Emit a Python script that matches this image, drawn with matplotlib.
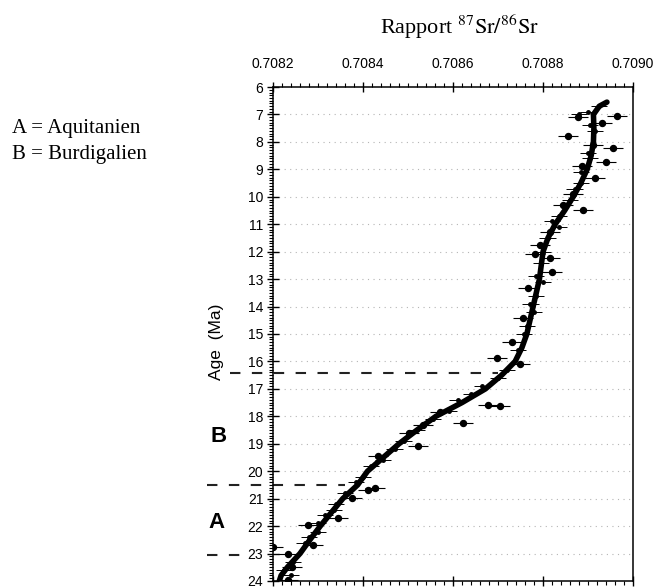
import numpy as np
import matplotlib
matplotlib.use('Agg')
import matplotlib.pyplot as plt
from matplotlib.ticker import MultipleLocator

plt.rcParams['font.family'] = ['Liberation Sans', 'DejaVu Sans']
plt.rcParams['mathtext.fontset'] = 'stix'

# smoothed reference curve (age in Ma, 87Sr/86Sr)
curve_age = [6.55, 6.7, 7.0, 7.5, 8.0, 8.5, 9.0, 9.5, 10.0, 10.5, 11.0, 11.5, 12.0, 13.0,
             14.0, 15.0, 15.5, 16.0, 16.5, 17.0, 17.5, 18.0, 18.5, 19.0, 19.5, 20.0,
             20.5, 21.0, 21.5, 22.0, 22.5, 23.0, 23.5, 23.8, 24.0, 24.3]
curve_sr = [0.708942, 0.708925, 0.708912, 0.708913, 0.708912, 0.708907, 0.708898, 0.708884,
            0.708867, 0.708848, 0.708827, 0.708811, 0.708800, 0.708792, 0.708778, 0.708764,
            0.708753, 0.708738, 0.708708, 0.708672, 0.708620, 0.708562, 0.708520, 0.708480,
            0.708445, 0.708410, 0.708388, 0.708355, 0.708330, 0.708305, 0.708282, 0.708260,
            0.708232, 0.708218, 0.708214, 0.708214]

# individual measurements (large dots)
big_age = [7.06, 7.8, 8.22, 8.73, 8.88, 9.32, 10.48, 7.3, 7.1, 8.1, 9.9, 10.3, 11.3, 11.76,
           12.1, 12.23, 12.74, 13.33, 14.42, 15.3, 15.88, 17.6, 17.63, 16.1, 18.25, 17.85,
           18.3, 18.6, 19.1, 19.45, 20.7, 20.6, 20.98, 21.7, 21.96, 22.7, 23.0, 22.75, 23.5, 23.97]
big_sr = [0.708964, 0.708856, 0.708956, 0.708940, 0.708887, 0.708916, 0.708889, 0.708931,
          0.708878, 0.708911, 0.708867, 0.708844, 0.708816, 0.708793, 0.708782, 0.708816,
          0.708820, 0.708767, 0.708756, 0.708731, 0.708698, 0.708678, 0.708704, 0.708749,
          0.708622, 0.708571, 0.708533, 0.708502, 0.708522, 0.708433, 0.708411, 0.708427,
          0.708376, 0.708344, 0.708278, 0.708289, 0.708233, 0.708200, 0.708242, 0.708233]

# smaller measurements along the curve
small_age = [6.7, 6.9, 7.0, 7.4, 7.6, 8.4, 8.6, 9.1, 9.5, 9.7, 10.1, 10.7, 10.9, 11.1, 11.5,
             12.0, 12.4, 12.9, 13.1, 13.6, 13.9, 14.2, 14.7, 15.0, 15.6, 16.3, 16.6, 16.9,
             17.2, 17.4, 17.8, 18.1, 18.5, 18.9, 19.2, 19.6, 19.8, 20.2, 20.4, 20.8, 21.2,
             21.4, 21.6, 21.9, 22.2, 22.4, 22.6, 23.3, 23.6, 23.8]
small_sr = [0.708925, 0.708900, 0.708880, 0.708905, 0.708915, 0.708900, 0.708905, 0.708885,
            0.708885, 0.708870, 0.708860, 0.708835, 0.708820, 0.708835, 0.708810, 0.708800,
            0.708795, 0.708785, 0.708800, 0.708785, 0.708772, 0.708780, 0.708765, 0.708758,
            0.708745, 0.708720, 0.708700, 0.708665, 0.708640, 0.708610, 0.708590, 0.708555,
            0.708520, 0.708490, 0.708470, 0.708445, 0.708418, 0.708400, 0.708385, 0.708360,
            0.708340, 0.708335, 0.708315, 0.708300, 0.708300, 0.708280, 0.708270, 0.708245,
            0.708225, 0.708240]

stage_limits = [16.42, 20.5, 23.05]
x_ticks = [0.7082, 0.7084, 0.7086, 0.7088, 0.7090]
x_labels = ['0.7082', '0.7084', '0.7086', '0.7088', '0.7090']

fig = plt.figure(figsize=(6.59, 5.88), dpi=100)
ax = fig.add_axes([0.4143, 0.012, 0.5463, 0.840])

ax.set_xlim(0.7082, 0.7090)
ax.set_ylim(24, 6)

for a in range(7, 24):
    ax.axhline(a, color='#b5b5b5', lw=0.8, ls=(0, (1, 4)), zorder=0)

ax.errorbar(small_sr, small_age, xerr=0.000018, fmt='o', ms=2.5, color='black',
            ecolor='black', elinewidth=0.7, capsize=0, zorder=2)
ax.errorbar(big_sr, big_age, xerr=0.000022, fmt='o', ms=4.3, color='black',
            ecolor='black', elinewidth=0.8, capsize=0, zorder=2)
ax.plot(curve_sr, curve_age, color='black', lw=4, solid_capstyle='round', zorder=3)

# stage boundaries (dashed lines extend past the left axis)
x_left = [0.708104, 0.708053, 0.708053]
x_right = [0.708700, 0.708360, 0.708135]
for y, x0, x1 in zip(stage_limits, x_left, x_right):
    ax.plot([x0, x1], [y, y], color='#222222', lw=1.5, dashes=(5, 5.5), clip_on=False, zorder=1)

ax.xaxis.tick_top()
ax.set_xticks(x_ticks)
ax.set_xticklabels(x_labels)
ax.xaxis.set_minor_locator(MultipleLocator(0.00002))
ax.yaxis.set_major_locator(MultipleLocator(1))
ax.yaxis.set_minor_locator(MultipleLocator(0.1))
ax.tick_params(axis='x', which='major', direction='inout', length=7, width=1, top=True,
               bottom=True, labelsize=10, pad=8)
ax.tick_params(axis='x', which='minor', direction='out', length=3, width=0.8, top=True, bottom=True)
ax.tick_params(axis='y', which='major', direction='inout', length=8, width=1, labelsize=10, pad=3)
ax.tick_params(axis='y', which='minor', direction='out', length=3, width=0.8)
for s in ax.spines.values():
    s.set_linewidth(1.1)

ax.set_ylabel('Age  (Ma)', fontsize=12.5, labelpad=3)
ax.yaxis.set_label_coords(-0.135, 0.485)

fig.text(0.697, 0.955, r'Rapport $^{87}\mathrm{Sr}/^{86}\mathrm{Sr}$', ha='center', va='center',
         fontsize=16, family='Liberation Serif')
fig.text(0.018, 0.782, 'A = Aquitanien', fontsize=15, family='Liberation Serif', va='center')
fig.text(0.018, 0.737, 'B = Burdigalien', fontsize=15, family='Liberation Serif', va='center')

fig.text(219 / 659, 1 - 437 / 588, 'B', fontsize=16, fontweight='bold', ha='center', va='center')
fig.text(216 / 659, 1 - 522 / 588, 'A', fontsize=16, fontweight='bold', ha='center', va='center')

fig.savefig('out.png', dpi=100)
